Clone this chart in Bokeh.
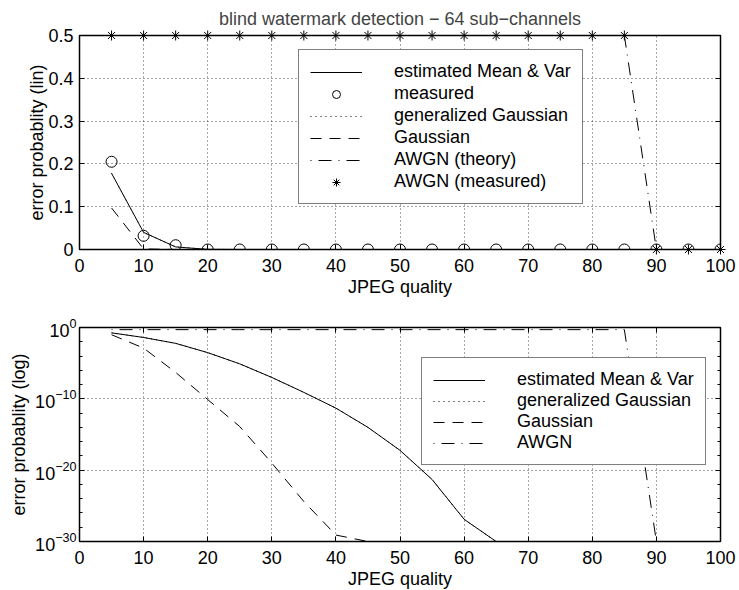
import numpy as np
from bokeh.plotting import figure
from bokeh.models import (FixedTicker, LinearAxis, LogAxis, Legend, LegendItem,
                          Range1d, CustomJSTickFormatter, LogTickFormatter)
from bokeh.layouts import column
from bokeh.embed import file_html
from bokeh.resources import INLINE

# ---------------- data ----------------
quality = [5, 10, 15, 20, 25, 30, 35, 40, 45, 50, 55, 60, 65, 70, 75, 80, 85, 90, 95, 100]

est_mean_var = [0.178, 0.04, 6e-3, 3e-4, 8e-6, 1e-7, 8e-10, 5e-12, 1e-14, 6e-18,
                5e-22, 1.3e-27, 1e-30, 0, 0, 0, 0, 0, 0, 0]
gen_gaussian = [0.178, 0.04, 6e-3, 3e-4, 8e-6, 1e-7, 8e-10, 5e-12, 1e-14, 6e-18,
                5e-22, 1.3e-27, 1e-30, 0, 0, 0, 0, 0, 0, 0]
gaussian = [0.097, 1.3e-3, 5e-7, 8e-11, 1.3e-14, 1e-19, 4e-25, 8e-30, 1e-30, 0,
            0, 0, 0, 0, 0, 0, 0, 0, 0, 0]
awgn_theory = [0.5, 0.5, 0.5, 0.5, 0.5, 0.5, 0.5, 0.5, 0.5, 0.5,
               0.5, 0.5, 0.5, 0.5, 0.5, 0.5, 0.5, 1e-30, 0, 0]
measured = [0.205, 0.032, 0.01, 0, 0, 0, 0, 0, 0, 0,
            0, 0, 0, 0, 0, 0, 0, 0, 0, 0]
awgn_measured = [0.5, 0.5, 0.5, 0.5, 0.5, 0.5, 0.5, 0.5, 0.5, 0.5,
                 0.5, 0.5, 0.5, 0.5, 0.5, 0.5, 0.5, 0, 0, 0]

x_ticks = [0, 10, 20, 30, 40, 50, 60, 70, 80, 90, 100]
lin_ticks = [0, 0.1, 0.2, 0.3, 0.4, 0.5]
lin_tick_labels = ["0", "0.1", "0.2", "0.3", "0.4", "0.5"]
log_ticks = [1e-30, 1e-20, 1e-10, 1.0]

title_text = "blind watermark detection \u2212 64 sub\u2212channels"
FONT = "Liberation Sans"
FS = "18px"


def logged(vals):
    a = np.array(vals, dtype=float)
    return np.where(a > 0, a, np.nan)


def blank_formatter():
    return CustomJSTickFormatter(code="return ''")


def style_common(p, xlabel, ylabel):
    p.outline_line_color = "black"
    p.outline_line_width = 1.5
    p.background_fill_color = "white"
    p.border_fill_color = "white"
    p.xaxis.ticker = FixedTicker(ticks=x_ticks)
    p.xgrid.ticker = FixedTicker(ticks=x_ticks)
    for g in (p.xgrid, p.ygrid):
        g.grid_line_color = "black"
        g.grid_line_dash = "1 3"
        g.grid_line_width = 1
        g.grid_line_alpha = 0.7
    for ax in p.xaxis + p.yaxis:
        ax.major_label_text_font = FONT
        ax.major_label_text_font_size = FS
        ax.major_label_text_color = "black"
        ax.axis_label_text_font = FONT
        ax.axis_label_text_font_size = FS
        ax.axis_label_text_font_style = "normal"
        ax.axis_label_text_color = "black"
        ax.major_tick_in = 5
        ax.major_tick_out = 0
        ax.minor_tick_in = 3
        ax.minor_tick_out = 0
        ax.major_tick_line_color = "black"
        ax.minor_tick_line_color = None
        ax.axis_line_color = "black"
    p.xaxis.axis_label = xlabel
    p.xaxis.major_label_standoff = 9
    p.xaxis.axis_label_standoff = 2
    p.yaxis.axis_label = ylabel


def add_box_axes(p, yticker, log=False, top=True):
    AxR = LogAxis if log else LinearAxis
    r = AxR(ticker=yticker, formatter=blank_formatter(), major_label_standoff=0,
            major_tick_in=5, major_tick_out=0, minor_tick_in=3, minor_tick_out=0,
            minor_tick_line_color=("black" if log else None), axis_line_color="black")
    p.add_layout(r, "right")
    if top:
        t = LinearAxis(ticker=FixedTicker(ticks=x_ticks), formatter=blank_formatter(),
                       major_label_standoff=0, major_tick_in=5, major_tick_out=0,
                       minor_tick_line_color=None, axis_line_color="black")
        p.add_layout(t, "above")


def make_legend(items, loc, spacing):
    lg = Legend(items=items, location=loc, margin=0, padding=11, spacing=spacing,
                glyph_width=52, glyph_height=20, label_standoff=32, label_height=20,
                label_text_font=FONT, label_text_font_size=FS, label_text_color="black",
                border_line_color="black", border_line_width=1.5,
                background_fill_color="white", background_fill_alpha=1.0)
    return lg


# ---------------- top: linear ----------------
p1 = figure(frame_width=641, frame_height=214, x_range=Range1d(0, 100), y_range=Range1d(0, 0.5),
            output_backend="svg", toolbar_location=None, title=title_text,
            min_border_left=79, min_border_right=17, min_border_top=34, min_border_bottom=47)
p1.title.text_font = FONT
p1.title.text_font_size = FS
p1.title.text_font_style = "normal"
p1.title.align = "center"
p1.title.standoff = 13
style_common(p1, "JPEG quality", "error probablity (lin)")
lin_ticker = FixedTicker(ticks=lin_ticks)
p1.yaxis.ticker = lin_ticker
p1.ygrid.ticker = lin_ticker
p1.yaxis.major_label_overrides = {t: s for t, s in zip(lin_ticks, lin_tick_labels)}
p1.yaxis.major_label_standoff = 6
p1.yaxis.axis_label_standoff = -2
add_box_axes(p1, lin_ticker, log=False, top=False)

r_est = p1.line(quality, est_mean_var, line_color="black", line_width=1)
r_meas = p1.scatter(quality, measured, marker="circle", size=11, fill_color=None,
                    line_color="black", line_width=1)
r_gg = p1.line(quality, gen_gaussian, line_color="black", line_width=1, line_dash="1 4")
r_g = p1.line(quality, gaussian, line_color="black", line_width=1, line_dash="11 8")
r_aw = p1.line(quality, awgn_theory, line_color="black", line_width=1, line_dash="1 7 13 7")
r_awm = p1.scatter(quality, awgn_measured, marker="asterisk", size=10, line_color="black",
                   line_width=1, level="overlay")

leg1 = make_legend([
    LegendItem(label="estimated Mean & Var", renderers=[r_est]),
    LegendItem(label="measured", renderers=[r_meas]),
    LegendItem(label="generalized Gaussian", renderers=[r_gg]),
    LegendItem(label="Gaussian", renderers=[r_g]),
    LegendItem(label="AWGN (theory)", renderers=[r_aw]),
    LegendItem(label="AWGN (measured)", renderers=[r_awm]),
], (219, 45), 1)
p1.add_layout(leg1)

# ---------------- bottom: log ----------------
p2 = figure(frame_width=641, frame_height=214, x_range=Range1d(0, 100), y_range=Range1d(1e-30, 1.0),
            y_axis_type="log", output_backend="svg", toolbar_location=None,
            min_border_left=79, min_border_right=17, min_border_top=28, min_border_bottom=47)
style_common(p2, "JPEG quality", "error probablity (log)")
log_minor = [10.0 ** k for k in range(-30, 1, 2) if k % 10]
log_ticker = FixedTicker(ticks=log_ticks, minor_ticks=log_minor)
p2.yaxis.ticker = log_ticker
p2.yaxis.formatter = LogTickFormatter()
p2.ygrid.ticker = FixedTicker(ticks=log_ticks)
p2.yaxis.minor_tick_line_color = "black"
p2.yaxis.major_label_standoff = 3
p2.yaxis.axis_label_standoff = 3
add_box_axes(p2, log_ticker, log=True, top=True)

q2_est = p2.line(quality, logged(est_mean_var), line_color="black", line_width=1)
q2_gg = p2.line(quality, logged(gen_gaussian), line_color="black", line_width=1, line_dash="1 4")
q2_g = p2.line(quality, logged(gaussian), line_color="black", line_width=1, line_dash="11 8")
q2_aw = p2.line(quality, logged(awgn_theory), line_color="black", line_width=1,
                line_dash="1 7 13 7")

leg2 = make_legend([
    LegendItem(label="estimated Mean & Var", renderers=[q2_est]),
    LegendItem(label="generalized Gaussian", renderers=[q2_gg]),
    LegendItem(label="Gaussian", renderers=[q2_g]),
    LegendItem(label="AWGN", renderers=[q2_aw]),
], (342, 76), 0)
p2.add_layout(leg2)

layout = column(p1, p2, spacing=0)
open("out.html", "w").write(file_html(layout, INLINE))
